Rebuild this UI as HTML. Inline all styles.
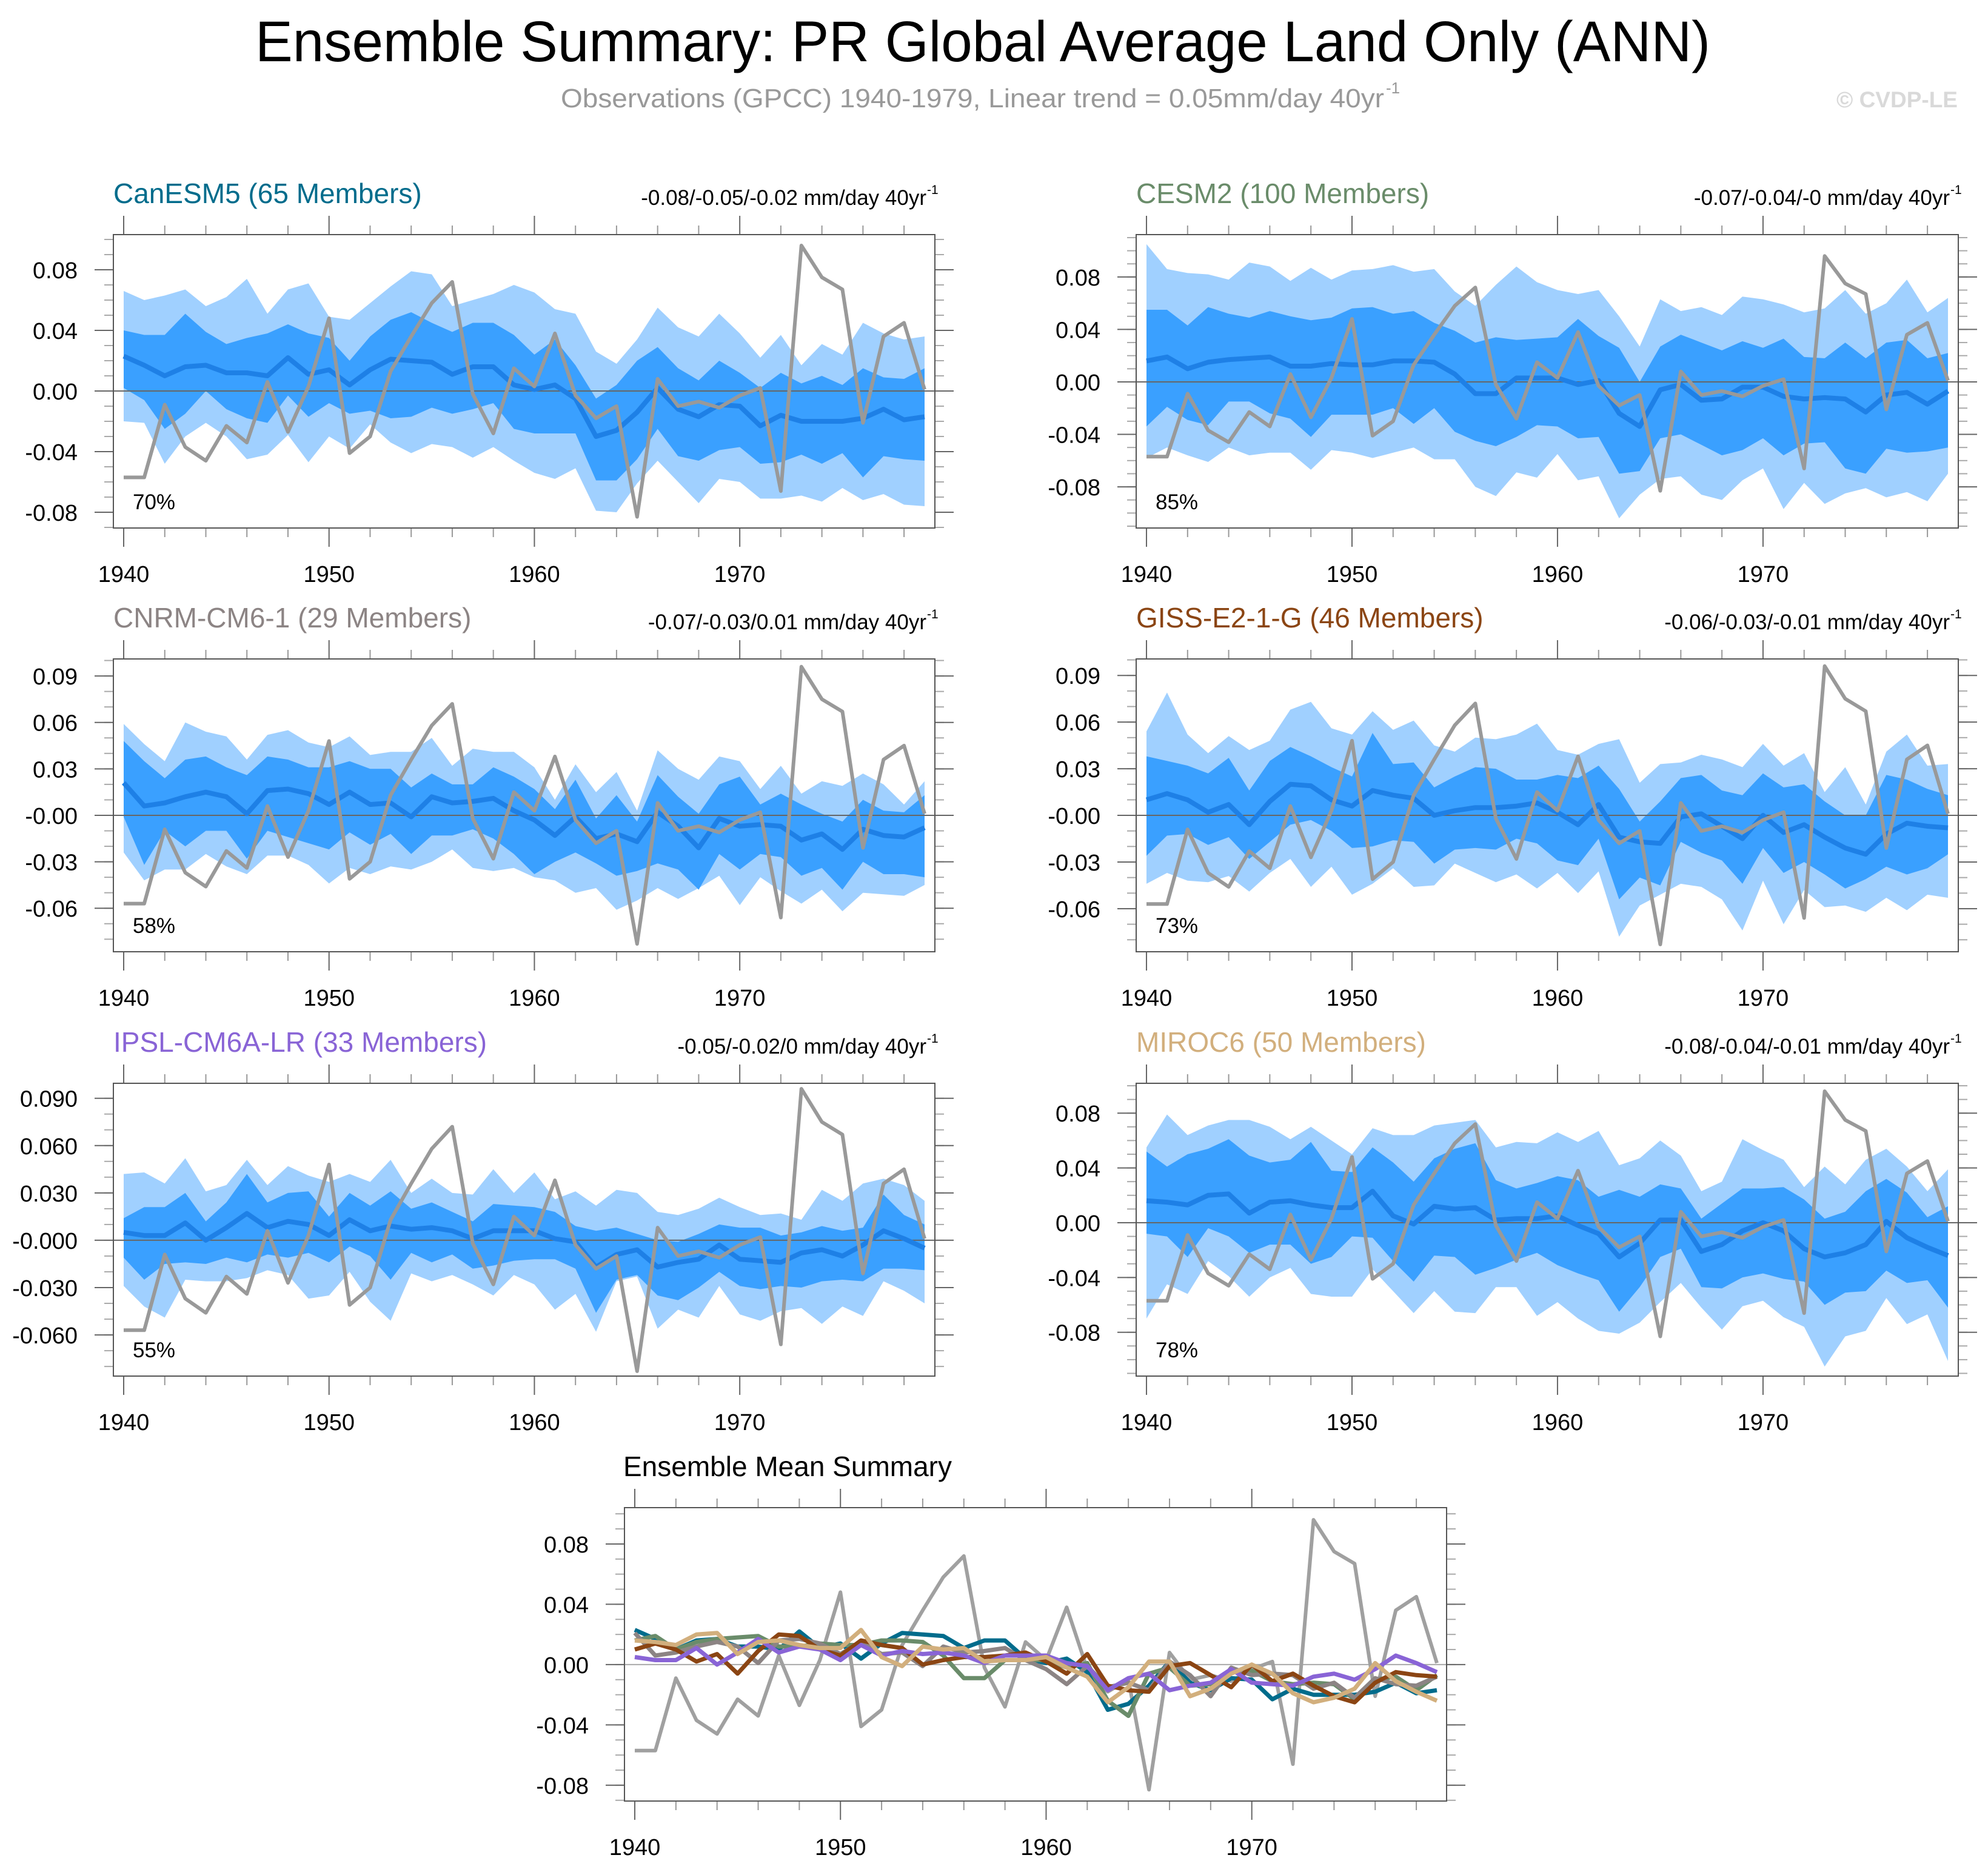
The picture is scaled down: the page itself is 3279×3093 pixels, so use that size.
<!DOCTYPE html>
<html>
<head>
<meta charset="utf-8">
<style>
html,body{margin:0;padding:0;background:#fff;}
svg{display:block;}
text{font-family:"Liberation Sans",Arial,sans-serif;}
</style>
</head>
<body>
<svg id="chart" width="3279" height="3093" viewBox="0 0 3279 3093" xmlns="http://www.w3.org/2000/svg">
  <text x="421" y="101" font-size="95" fill="#000" textLength="2400" lengthAdjust="spacingAndGlyphs">Ensemble Summary: PR Global Average Land Only (ANN)</text>
  <text x="925" y="177" font-size="44" fill="#999" textLength="1358" lengthAdjust="spacingAndGlyphs">Observations (GPCC) 1940-1979, Linear trend = 0.05mm/day 40yr</text>
  <text x="2286" y="154" font-size="26" fill="#999">-1</text>
  <text x="3229" y="177" font-size="37" font-weight="bold" fill="#d9d9d9" text-anchor="end">© CVDP-LE</text>
  <g id="panels"></g>
</svg>
<script>
// ---------- data ----------
const years = [1940,1941,1942,1943,1944,1945,1946,1947,1948,1949,1950,1951,1952,1953,1954,1955,1956,1957,1958,1959,1960,1961,1962,1963,1964,1965,1966,1967,1968,1969,1970,1971,1972,1973,1974,1975,1976,1977,1978,1979];
const obs = [-0.057,-0.057,-0.009,-0.037,-0.046,-0.023,-0.034,0.006,-0.027,0.003, 0.048,-0.041,-0.030,0.013,0.036,0.058,0.072,-0.002,-0.028,0.015, 0.003,0.038,-0.003,-0.018,-0.010,-0.083,0.008,-0.010,-0.007,-0.011, -0.003,0.002,-0.066,0.096,0.075,0.067,-0.021,0.036,0.045,0.001];

const canMean = [.023,.017,.010,.016,.017,.012,.012,.010,.022,.011, .014,.004,.014,.021,.020,.019,.011,.016,.016,.004, .001,.004,-.005,-.030,-.026,-.014,.002,-.012,-.017,-.009, -.010,-.023,-.016,-.020,-.020,-.020,-.018,-.012,-.019,-.017];
const canInHi = [.040,.037,.037,.051,.039,.031,.035,.038,.044,.038, .035,.020,.036,.047,.052,.045,.039,.045,.045,.037, .024,.034,.017,-.005,.004,.020,.029,.015,.007,.020, .012,.002,.012,.005,.010,.004,.015,.009,.008,.015];
const canInLo = [.002,-.006,-.025,-.015,0,-.012,-.018,-.021,-.003,-.017, -.008,-.015,-.013,-.018,-.017,-.011,-.015,-.012,-.008,-.025, -.028,-.028,-.028,-.059,-.059,-.045,-.025,-.043,-.046,-.039, -.037,-.048,-.047,-.042,-.048,-.041,-.057,-.043,-.045,-.046];
const canOutHi = [.066,.060,.063,.067,.056,.062,.074,.051,.067,.071, .049,.047,.058,.069,.079,.077,.056,.060,.064,.070, .065,.054,.051,.026,.018,.034,.055,.042,.036,.051, .038,.022,.037,.017,.031,.024,.045,.038,.034,.036];
const canOutLo = [-.020,-.021,-.048,-.030,-.021,-.030,-.045,-.042,-.029,-.047, -.030,-.038,-.022,-.034,-.041,-.035,-.037,-.044,-.037,-.046, -.054,-.058,-.051,-.079,-.080,-.061,-.046,-.060,-.074,-.058, -.060,-.071,-.071,-.069,-.073,-.064,-.072,-.068,-.075,-.076];

const cesMean = [.016,.019,.010,.015,.017,.018,.019,.012,.012,.014, .013,.013,.016,.016,.015,.006,-.009,-.009,.003,.003, .003,-.002,.001,-.024,-.034,-.006,-.002,-.014,-.013,-.004, -.004,-.011,-.013,-.012,-.013,-.023,-.010,-.008,-.017,-.007];
const cesInHi = [.055,.055,.043,.057,.052,.049,.054,.050,.047,.049, .056,.057,.052,.054,.045,.039,.030,.034,.032,.033, .034,.048,.035,.026,0,.027,.036,.030,.024,.031, .026,.033,.019,.018,.030,.018,.030,.032,.018,.022];
const cesInLo = [-.034,-.019,-.029,-.033,-.015,-.015,-.024,-.028,-.042,-.025, -.025,-.025,-.020,-.032,-.020,-.038,-.045,-.049,-.042,-.033, -.034,-.043,-.042,-.070,-.068,-.043,-.040,-.048,-.056,-.052, -.043,-.056,-.047,-.046,-.066,-.070,-.051,-.054,-.053,-.050];
const cesOutHi = [.105,.086,.083,.082,.078,.091,.088,.077,.087,.078, .085,.086,.089,.084,.086,.069,.058,.074,.088,.076, .070,.067,.070,.050,.027,.063,.054,.057,.051,.065, .063,.059,.053,.056,.070,.052,.060,.078,.053,.064];
const cesOutLo = [-.058,-.050,-.056,-.061,-.050,-.056,-.054,-.054,-.067,-.052, -.054,-.058,-.054,-.050,-.059,-.059,-.080,-.087,-.069,-.073, -.055,-.075,-.072,-.104,-.086,-.074,-.072,-.086,-.090,-.075, -.066,-.097,-.077,-.093,-.085,-.081,-.088,-.084,-.091,-.070];

const cnrMean = [.021,.006,.008,.012,.015,.012,.001,.016,.017,.014, .007,.015,.007,.008,-.001,.012,.008,.009,.011,.003, -.003,-.013,-.001,-.015,-.012,-.017,.002,-.007,-.021,-.002, -.007,-.006,-.007,-.016,-.012,-.022,-.009,-.013,-.014,-.008];
const cnrInHi = [.048,.035,.024,.036,.038,.031,.026,.038,.036,.031, .031,.035,.030,.030,.018,.027,.020,.020,.031,.025, .017,.004,.023,-.002,.013,-.004,.026,.012,.001,.020, .025,.007,.014,.007,.001,-.004,.010,.003,.002,.013];
const cnrInLo = [-.001,-.032,-.010,-.020,-.010,-.010,-.028,-.010,-.014,-.018, -.022,-.011,-.019,-.012,-.025,-.013,-.013,-.009,-.015,-.025, -.038,-.030,-.024,-.031,-.039,-.036,-.031,-.035,-.048,-.025, -.035,-.025,-.027,-.039,-.034,-.048,-.030,-.038,-.038,-.040];
const cnrOutHi = [.059,.046,.035,.060,.054,.051,.036,.052,.055,.047, .044,.051,.039,.041,.041,.050,.032,.043,.041,.041, .031,.010,.033,.015,.028,.003,.042,.030,.023,.038, .035,.017,.032,.014,.022,.019,.027,.020,.007,.022];
const cnrOutLo = [-.024,-.042,-.035,-.035,-.025,-.033,-.038,-.026,-.026,-.032, -.044,-.034,-.038,-.033,-.035,-.030,-.022,-.034,-.036,-.034, -.040,-.042,-.050,-.047,-.061,-.055,-.047,-.054,-.047,-.039, -.058,-.040,-.049,-.057,-.048,-.062,-.050,-.051,-.052,-.045];

const gisMean = [.010,.014,.010,.002,.007,-.006,.009,.020,.019,.010, .006,.016,.013,.011,0,.003,.005,.005,.006,.008, .002,-.006,.007,-.014,-.017,-.018,-.001,.001,-.007,-.015, 0,-.011,-.006,-.014,-.021,-.025,-.012,-.005,-.007,-.008];
const gisInHi = [.038,.035,.032,.027,.037,.016,.035,.044,.038,.031, .025,.053,.033,.034,.018,.025,.031,.030,.023,.023, .026,.024,.032,.017,-.004,.009,.024,.026,.016,.013, .027,.018,.020,.009,0,0,.026,.023,.017,.013];
const gisInLo = [-.026,-.013,-.012,-.019,-.014,-.028,-.017,-.006,-.003,-.010, -.021,-.020,-.016,-.017,-.031,-.022,-.021,-.022,-.015,-.018, -.029,-.032,-.015,-.054,-.040,-.045,-.017,-.024,-.029,-.044, -.021,-.037,-.030,-.038,-.047,-.041,-.033,-.038,-.034,-.025];
const gisOutHi = [.054,.079,.052,.040,.051,.042,.048,.068,.073,.056, .052,.067,.055,.061,.045,.041,.050,.049,.052,.059, .042,.039,.046,.049,.021,.033,.034,.039,.036,.031, .046,.032,.040,.015,.031,.007,.041,.052,.032,.033];
const gisOutLo = [-.044,-.037,-.042,-.043,-.039,-.049,-.037,-.028,-.046,-.033, -.051,-.044,-.034,-.046,-.045,-.031,-.037,-.043,-.038,-.047, -.037,-.050,-.036,-.078,-.058,-.051,-.044,-.046,-.054,-.074, -.042,-.070,-.048,-.059,-.058,-.062,-.053,-.061,-.051,-.053];

const ipsMean = [.005,.003,.003,.011,0,.008,.017,.008,.012,.010, .003,.013,.006,.009,.007,.008,.006,.001,.006,.006, .006,.001,-.001,-.017,-.009,-.006,-.017,-.014,-.012,-.003, -.012,-.013,-.014,-.008,-.006,-.010,-.003,.006,.001,-.005];
const ipsInHi = [.014,.021,.021,.030,.012,.024,.042,.024,.030,.031, .015,.030,.022,.031,.020,.024,.018,.012,.023,.022, .021,.018,.009,.006,.008,.004,0,-.001,.004,.010, .008,.008,.003,.005,.009,.006,.008,.029,.016,.010];
const ipsInLo = [-.011,-.025,-.015,-.014,-.015,-.011,-.014,-.009,-.011,-.008, -.014,-.004,-.010,-.025,-.008,-.014,-.009,-.018,-.016,-.013, -.012,-.012,-.018,-.046,-.025,-.022,-.035,-.038,-.030,-.020, -.029,-.031,-.029,-.030,-.026,-.025,-.026,-.018,-.018,-.019];
const ipsOutHi = [.042,.043,.036,.052,.031,.035,.051,.035,.047,.041, .037,.042,.037,.051,.030,.039,.030,.029,.045,.030, .043,.026,.031,.022,.032,.030,.018,.016,.020,.027, .021,.016,.017,.013,.032,.025,.036,.039,.035,.025];
const ipsOutLo = [-.029,-.042,-.049,-.025,-.026,-.026,-.024,-.019,-.022,-.037, -.035,-.020,-.039,-.051,-.021,-.026,-.022,-.028,-.035,-.022, -.028,-.044,-.034,-.058,-.026,-.023,-.056,-.044,-.049,-.029, -.047,-.051,-.045,-.043,-.053,-.042,-.048,-.026,-.032,-.040];

const mirMean = [.016,.015,.013,.020,.021,.007,.015,.016,.013,.011, .011,.023,.005,-.001,.012,.010,.011,.002,.003,.003, .005,-.002,-.008,-.025,-.015,.002,.002,-.021,-.016,-.006, 0,-.006,-.019,-.025,-.022,-.016,.001,-.011,-.018,-.024];
const mirInHi = [.052,.041,.050,.054,.061,.049,.044,.046,.059,.038, .037,.055,.044,.030,.047,.054,.058,.031,.025,.029, .034,.031,.019,.024,.019,.028,.025,.003,.014,.025, .025,.026,.017,.003,.008,.023,.032,.022,.004,.012];
const mirInLo = [-.008,-.010,-.025,-.004,-.010,-.022,-.016,-.016,-.030,-.025, -.010,-.011,-.028,-.043,-.024,-.025,-.038,-.033,-.027,-.022, -.031,-.037,-.042,-.065,-.047,-.025,-.019,-.047,-.048,-.040, -.037,-.041,-.043,-.060,-.051,-.050,-.035,-.044,-.042,-.062];
const mirOutHi = [.055,.079,.064,.071,.075,.075,.070,.061,.070,.060, .050,.069,.064,.064,.071,.073,.075,.055,.059,.058, .066,.059,.067,.042,.047,.060,.049,.023,.030,.061, .053,.046,.026,.041,.028,.046,.054,.041,.023,.039];
const mirOutLo = [-.070,-.045,-.052,-.028,-.039,-.054,-.040,-.033,-.052,-.054, -.054,-.034,-.050,-.066,-.050,-.065,-.066,-.047,-.047,-.068, -.058,-.070,-.079,-.081,-.073,-.058,-.044,-.062,-.078,-.061, -.057,-.069,-.076,-.105,-.083,-.079,-.055,-.074,-.067,-.101];

const modelNames = ["CanESM5 (65 Members)","CESM2 (100 Members)","CNRM-CM6-1 (29 Members)","GISS-E2-1-G (46 Members)","IPSL-CM6A-LR (33 Members)","MIROC6 (50 Members)"];
const trendLabels = ["-0.08/-0.05/-0.02 mm/day 40yr","-0.07/-0.04/-0 mm/day 40yr","-0.07/-0.03/0.01 mm/day 40yr","-0.06/-0.03/-0.01 mm/day 40yr","-0.05/-0.02/0 mm/day 40yr","-0.08/-0.04/-0.01 mm/day 40yr"];
const pctLabels = ["70%","85%","58%","73%","55%","78%"];
const tickVals4 = [-0.08,-0.04,0,0.04,0.08];
const tickLabs4 = ["-0.08","-0.04","0.00","0.04","0.08"];
const tickVals3 = [-0.06,-0.03,0,0.03,0.06,0.09];
const tickLabs3 = ["-0.06","-0.03","-0.00","0.03","0.06","0.09"];
const tickLabs3b = ["-0.060","-0.030","-0.000","0.030","0.060","0.090"];
const xTickYears = [1940,1950,1960,1970];
const xTickLabels = ["1940","1950","1960","1970"];

// ---------- layout (positions/styles, not data) ----------
const modelColors = ["#006c8c","#6a8c6a","#8c8484","#8b4513","#8964d6","#d2af7d"];
const layout = [
  {L:187,R:1542,x0:204,x1:1525,T:387,B:871,yMin:-0.0904,yMax:0.1032},
  {L:1874,R:3230,x0:1891,x1:3213,T:387,B:871,yMin:-0.1114,yMax:0.1123},
  {L:187,R:1542,x0:204,x1:1525,T:1087,B:1570,yMin:-0.0881,yMax:0.1010},
  {L:1874,R:3230,x0:1891,x1:3213,T:1087,B:1570,yMin:-0.0877,yMax:0.1006},
  {L:187,R:1542,x0:204,x1:1525,T:1787,B:2270,yMin:-0.0861,yMax:0.0995},
  {L:1874,R:3230,x0:1891,x1:3213,T:1787,B:2270,yMin:-0.1120,yMax:0.1018}
];
const summaryLayout = {L:1030,R:2386,x0:1047,x1:2370,T:2487,B:2971,yMin:-0.0905,yMax:0.1041};

const NS = "http://www.w3.org/2000/svg";
const root = document.getElementById("panels");
function mk(tag, attrs, parent){
  const e = document.createElementNS(NS, tag);
  for (const k in attrs) e.setAttribute(k, attrs[k]);
  (parent||root).appendChild(e);
  return e;
}
function xScale(lay, yr){ return lay.x0 + (yr - years[0]) * (lay.x1 - lay.x0) / (years[years.length-1] - years[0]); }
function yScale(lay, v){ return lay.B - (v - lay.yMin) * (lay.B - lay.T) / (lay.yMax - lay.yMin); }
function linePts(lay, vals){ return vals.map((v,i)=>xScale(lay,years[i]).toFixed(1)+","+yScale(lay,v).toFixed(1)).join(" "); }
function bandPts(lay, hi, lo){
  const a = hi.map((v,i)=>xScale(lay,years[i]).toFixed(1)+","+yScale(lay,v).toFixed(1));
  const b = lo.map((v,i)=>xScale(lay,years[i]).toFixed(1)+","+yScale(lay,v).toFixed(1)).reverse();
  return a.concat(b).join(" ");
}

function drawAxes(g, lay, tVals, tLabs){
  for (let yr = years[0]; yr <= years[years.length-1]; yr += 2){
    const x = xScale(lay, yr);
    const major = (yr % 10 === 0);
    const len = major ? 31 : 15;
    const col = major ? "#666" : "#999";
    const t1 = mk("line",{x1:x,x2:x,y1:lay.T-len,y2:lay.T,stroke:col,"stroke-width":2},g);
    
    
    const t2 = mk("line",{x1:x,x2:x,y1:lay.B,y2:lay.B+len,stroke:col,"stroke-width":2},g);
    
    
  }
  xTickYears.forEach((yr,i)=>{
    const t = mk("text",{x:xScale(lay,yr),y:lay.B+89,"font-size":38,"text-anchor":"middle",fill:"#000"},g);
    t.textContent = xTickLabels[i];
    
    
  });
  const kMin = Math.ceil(lay.yMin/0.01 - 1e-6), kMax = Math.floor(lay.yMax/0.01 + 1e-6);
  for (let k = kMin; k <= kMax; k++){
    const y = yScale(lay, k*0.01);
    const m1 = mk("line",{x1:lay.L-15,x2:lay.L,y1:y,y2:y,stroke:"#aaa","stroke-width":2},g);
    
    
    const m2 = mk("line",{x1:lay.R,x2:lay.R+15,y1:y,y2:y,stroke:"#aaa","stroke-width":2},g);
    
    
  }
  tVals.forEach((v,i)=>{
    const y = yScale(lay, v);
    const a = mk("line",{x1:lay.L-31,x2:lay.L,y1:y,y2:y,stroke:"#666","stroke-width":2},g);
    
    
    const b = mk("line",{x1:lay.R,x2:lay.R+31,y1:y,y2:y,stroke:"#666","stroke-width":2},g);
    
    
    const t = mk("text",{x:lay.L-59,y:y+14,"font-size":38,"text-anchor":"end",fill:"#000"},g);
    t.textContent = tLabs[i];
    
    
  });
  const box = mk("rect",{x:lay.L,y:lay.T,width:lay.R-lay.L,height:lay.B-lay.T,fill:"none",stroke:"#555","stroke-width":2},g);
  
  
}

const models = [
  [canMean,canInHi,canInLo,canOutHi,canOutLo],
  [cesMean,cesInHi,cesInLo,cesOutHi,cesOutLo],
  [cnrMean,cnrInHi,cnrInLo,cnrOutHi,cnrOutLo],
  [gisMean,gisInHi,gisInLo,gisOutHi,gisOutLo],
  [ipsMean,ipsInHi,ipsInLo,ipsOutHi,ipsOutLo],
  [mirMean,mirInHi,mirInLo,mirOutHi,mirOutLo]
];
const tickSets = [[tickVals4,tickLabs4],[tickVals4,tickLabs4],[tickVals3,tickLabs3],[tickVals3,tickLabs3],[tickVals3,tickLabs3b],[tickVals4,tickLabs4]];
const panelIds = ["canesm5-panel","cesm2-panel","cnrm-cm6-1-panel","giss-e2-1-g-panel","ipsl-cm6a-lr-panel","miroc6-panel"];

models.forEach((m,idx)=>{
  const lay = layout[idx];
  const g = mk("g",{});
  
  
  const outer = mk("polygon",{points:bandPts(lay,m[3],m[4]),fill:"#a0d0ff",stroke:"none"},g);
  
  
  const inner = mk("polygon",{points:bandPts(lay,m[1],m[2]),fill:"#3aa0ff",stroke:"none"},g);
  
  
  const z = yScale(lay,0);
  const zl = mk("line",{x1:lay.L,x2:lay.R,y1:z,y2:z,stroke:"#666","stroke-width":2},g);
  
  
  const ml = mk("polyline",{points:linePts(lay,m[0]),fill:"none",stroke:"#1e80e6","stroke-width":8,"stroke-linejoin":"round"},g);
  
  
  const ol = mk("polyline",{points:linePts(lay,obs),fill:"none",stroke:"#999","stroke-width":6,"stroke-linejoin":"round"},g);
  
  
  drawAxes(g, lay, tickSets[idx][0], tickSets[idx][1]);
  const title = mk("text",{x:lay.L,y:lay.T-52,"font-size":46,fill:modelColors[idx]},g);
  title.textContent = modelNames[idx];
  
  
  const tr = mk("text",{x:lay.R-14,y:lay.T-49,"font-size":35,"text-anchor":"end",fill:"#000"},g);
  tr.textContent = trendLabels[idx];
  
  
  const sup = mk("text",{x:lay.R-13,y:lay.T-67,"font-size":21,fill:"#000"},g);
  sup.textContent = "-1";
  
  
  const pc = mk("text",{x:lay.L+32,y:lay.B-31,"font-size":35,fill:"#000"},g);
  pc.textContent = pctLabels[idx];
  
  
});

// ---------- summary panel ----------
(function(){
  const lay = summaryLayout;
  const g = mk("g",{});
  
  
  const z = yScale(lay,0);
  const zl = mk("line",{x1:lay.L,x2:lay.R,y1:z,y2:z,stroke:"#aaa","stroke-width":2},g);
  
  
  const ol = mk("polyline",{points:linePts(lay,obs),fill:"none",stroke:"#a0a0a0","stroke-width":6,"stroke-linejoin":"round"},g);
  
  
  models.forEach((m,idx)=>{
    const l = mk("polyline",{points:linePts(lay,m[0]),fill:"none",stroke:modelColors[idx],"stroke-width":7,"stroke-linejoin":"round"},g);
    
    
  });
  drawAxes(g, lay, tickVals4, tickLabs4);
  const t = mk("text",{x:1028,y:lay.T-52,"font-size":46,fill:"#000"},g);
  t.textContent = "Ensemble Mean Summary";
  
  
})();
</script>
</body>
</html>
